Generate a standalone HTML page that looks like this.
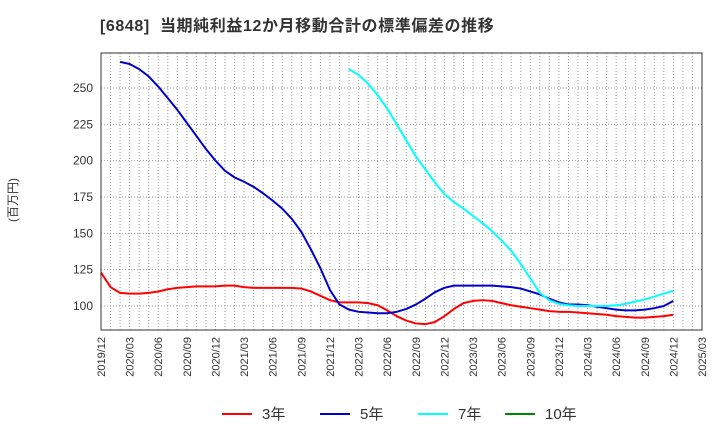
<!DOCTYPE html>
<html><head><meta charset="utf-8"><style>
body{margin:0;background:#fff;font-family:"Liberation Sans","Noto Sans CJK JP",sans-serif}
</style></head><body>
<svg id="c" width="720" height="440" xmlns="http://www.w3.org/2000/svg">
<text x="100" y="31" font-size="16" font-weight="bold" fill="#333" letter-spacing="0.6" xml:space="preserve">[6848]  当期純利益12か月移動合計の標準偏差の推移</text>
<text transform="translate(17,200) rotate(-90)" font-size="12" fill="#333" text-anchor="middle">(百万円)</text>
<g id="grid"></g><g id="ticks"></g><g id="series"></g>
<rect x="101" y="53" width="601" height="277" fill="none" stroke="#333" stroke-width="1"/>
<g font-size="15" fill="#333">
<line x1="222" y1="414" x2="252" y2="414" stroke="#f00" stroke-width="2"/><text x="262" y="419">3年</text>
<line x1="320" y1="414" x2="350" y2="414" stroke="#00c" stroke-width="2"/><text x="360" y="419">5年</text>
<line x1="418" y1="414" x2="448" y2="414" stroke="#0ff" stroke-width="2"/><text x="458" y="419">7年</text>
<line x1="505" y1="414" x2="535" y2="414" stroke="#080" stroke-width="2"/><text x="545" y="419">10年</text>
</g>
</svg>
<script>
const yTicks=[100,125,150,175,200,225,250];
const xLabels=["2019/12","2020/03","2020/06","2020/09","2020/12","2021/03","2021/06","2021/09","2021/12","2022/03","2022/06","2022/09","2022/12","2023/03","2023/06","2023/09","2023/12","2024/03","2024/06","2024/09","2024/12","2025/03"];
const s3Start=0;
const s3=[123,113,109,108.5,108.5,109,110,111.5,112.5,113,113.5,113.5,113.5,114,114,113,112.5,112.5,112.5,112.5,112.5,112,110,107,104,102.5,102.5,102.5,102,100.5,97,93,90,88,87.5,89,93,98,102,103.5,104,103.5,102,100.5,99.5,98.5,97.5,96.5,96,96,95.5,95,94.5,94,93,92.5,92,92,92.5,93,94];
const s5Start=2;
const s5=[268,266.5,263,258,251,243,235,226,217,208,200,193,188.5,185.5,182,177.5,172.5,167,160,151,139,126,111,101,97.5,96,95.5,95,95,96,98,101,105,109.5,112.5,114,114,114,114,114,113.5,113,112,110,108,105,102.5,101,101,100.5,99.5,98.5,97.5,97,97,97.5,98.5,100,103.5];
const s7Start=26;
const s7=[263,259,253,245,236,225,214,203,194,185,177,171.5,167,162,157,151.5,145,138,129,119,109,104,101.5,100.5,100,100,100,100,100.5,101.5,103,104.5,106.5,108.5,110.5];
const X=m=>101+m*601/63, Y=v=>306-(v-100)*1.4533;
const NS="http://www.w3.org/2000/svg";
function mk(t,a,p){const e=document.createElementNS(NS,t);for(const k in a)e.setAttribute(k,a[k]);p.appendChild(e);return e;}
const g=document.getElementById('grid'),tk=document.getElementById('ticks'),se=document.getElementById('series');
for(let m=1;m<63;m++){const l=mk('line',{x1:X(m),x2:X(m),y1:53,y2:330,stroke:'#999','stroke-dasharray':'1,2','stroke-width':1},g);

}
yTicks.forEach(v=>{const l=mk('line',{x1:101,x2:702,y1:Y(v),y2:Y(v),stroke:'#999','stroke-dasharray':'1,2','stroke-width':1},g);


const t=mk('text',{x:93,y:Y(v)+4,'font-size':12,'text-anchor':'end',fill:'#333'},tk);t.textContent=v;

});
xLabels.forEach((s,i)=>{const x=X(i*3);const t=mk('text',{transform:`translate(${x+4},337) rotate(-90)`,'font-size':11,'text-anchor':'end',fill:'#333'},tk);t.textContent=s;

});
function line(d,st,col,name){const p=mk('polyline',{points:d.map((v,i)=>X(st+i)+','+Y(v)).join(' '),fill:'none',stroke:col,'stroke-width':2,'stroke-linejoin':'round'},se);

}
line(s3,s3Start,'#f00','series-3y');
line(s5,s5Start,'#00c','series-5y');
line(s7,s7Start,'#0ff','series-7y');
</script>
</body></html>
